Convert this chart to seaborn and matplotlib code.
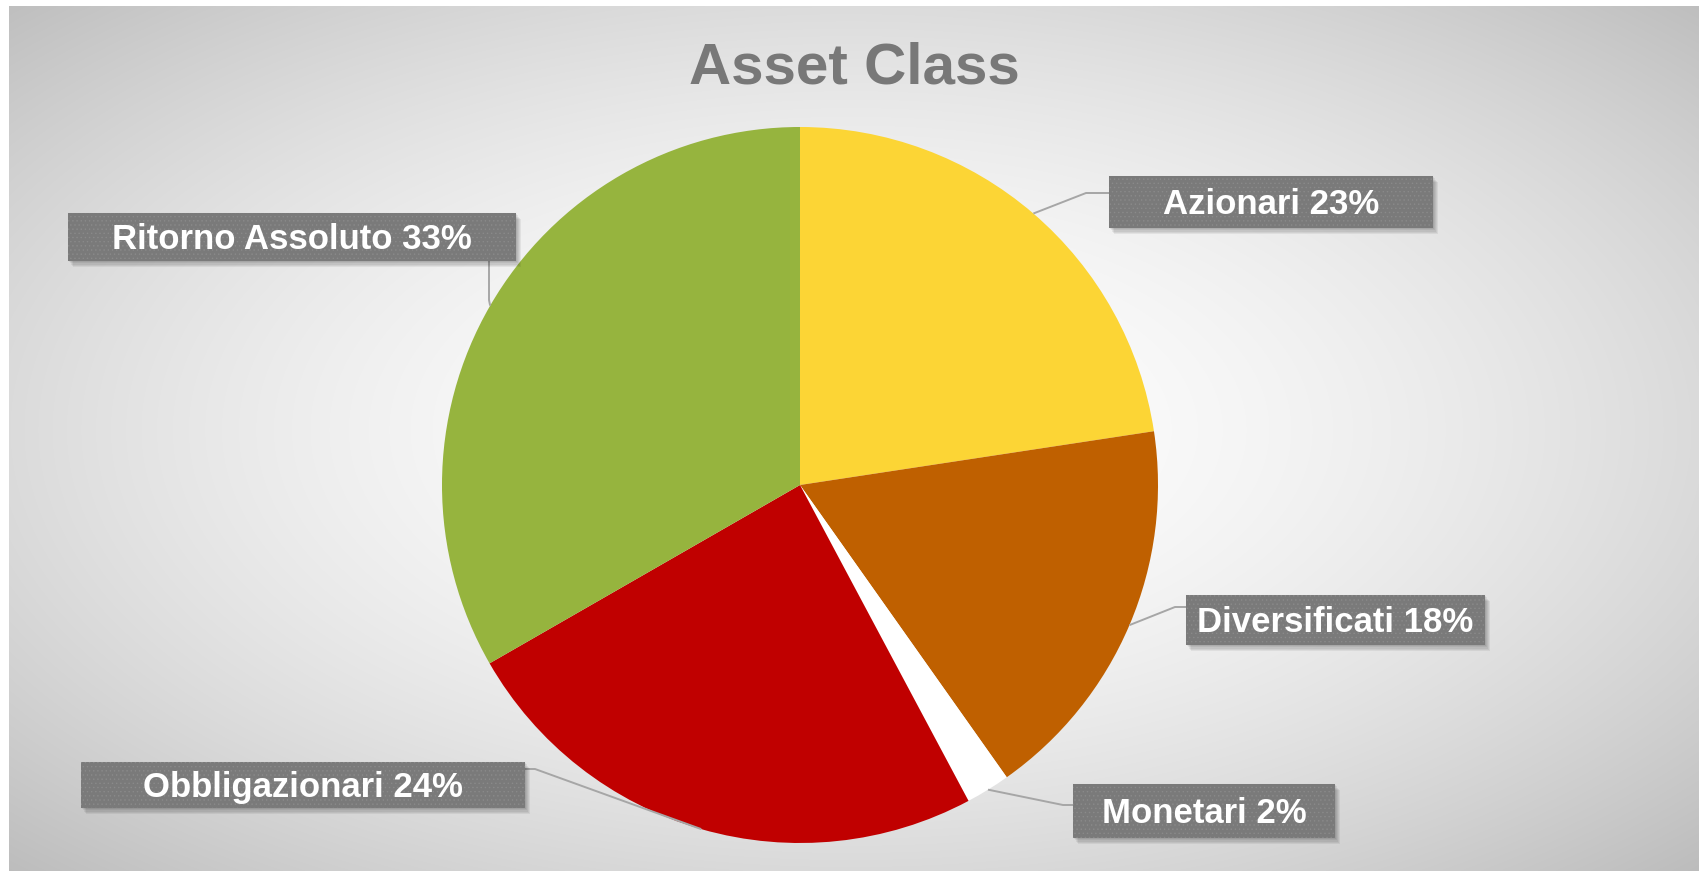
import numpy as np
import matplotlib
matplotlib.use("Agg")
import matplotlib.pyplot as plt
import seaborn as sns
from matplotlib.patches import Rectangle

# ---------------- data ----------------
categories = ["Azionari", "Diversificati", "Monetari", "Obbligazionari", "Ritorno Assoluto"]
values = [22.6, 17.6, 2.0, 24.5, 33.3]
label_pct = [23, 18, 2, 24, 33]
colors = ["#FCD535", "#BF6000", "#FFFFFF", "#C00000", "#96B43E"]
title = "Asset Class"

# ---------------- style / layout ----------------
sns.set_theme(style="white")
plt.rcParams["font.family"] = ["Liberation Sans", "DejaVu Sans"]
plt.rcParams["hatch.linewidth"] = 0.5

W, H = 1702, 871
fig = plt.figure(figsize=(W / 100, H / 100), dpi=100)
fig.patch.set_facecolor("white")
ax = fig.add_axes([0, 0, 1, 1])

# radial gradient background (white centre, grey corners)
bx0, bx1, by0, by1 = 9, 1699, 6, 871
yy, xx = np.mgrid[by0:by1, bx0:bx1] + 0.5
cx, cy = 851, 430
d = np.sqrt(((xx - cx) / (W / 2)) ** 2 + ((yy - cy) / (H / 2)) ** 2) / np.sqrt(2)
val = 1 - 0.26 * np.clip(d, 0, 1) ** 1.7
img = np.dstack([val, val, val])
ax.imshow(img, extent=(bx0, bx1, by1, by0), aspect="auto", zorder=0,
          interpolation="bilinear", origin="upper")

# pie (pixel coordinates, y axis downward)
pc = (800, 485)
R = 358
wedges, _ = ax.pie(values, colors=colors, startangle=-90, counterclock=True,
                   center=pc, radius=R, wedgeprops=dict(linewidth=0), frame=True)
for w in wedges:
    w.set_zorder(2)

ax.set_xlim(0, W)
ax.set_ylim(H, 0)
ax.set_aspect("equal")
ax.axis("off")

# label boxes (x0, y0, x1, y1) in pixels, elbow point and attachment point
boxes = [(1109, 176, 1433, 228), (1186, 595, 1485, 645), (1073, 784, 1335, 838),
         (81, 762, 525, 808), (68, 213, 516, 261)]
elbows = [(1086, 193), (1175, 607), (1063, 805), (535, 769), (489, 300)]
ends = [(1109, 193), (1186, 607), (1073, 805), (525, 769), (489, 261)]

total = float(sum(values))
cum = np.cumsum([0] + values[:-1])
for i, (cat, v) in enumerate(zip(categories, values)):
    mid = np.deg2rad(-90 + 360 * (cum[i] + v / 2) / total)
    ex, ey = pc[0] + R * np.cos(mid), pc[1] + R * np.sin(mid)
    ax.plot([ex, elbows[i][0], ends[i][0]], [ey, elbows[i][1], ends[i][1]],
            color="#A6A6A6", lw=1.4, zorder=3, solid_capstyle="butt")

    x0, y0, x1, y1 = boxes[i]
    bw, bh = x1 - x0, y1 - y0
    # soft shadow
    for k in range(1, 6):
        ax.add_patch(Rectangle((x0 + 1.0 * k, y0 + 1.2 * k), bw, bh, facecolor="black",
                               edgecolor="none", alpha=0.06, zorder=4))
    ax.add_patch(Rectangle((x0, y0), bw, bh, facecolor="#7A7A7A", edgecolor="none",
                           zorder=5))
    ax.add_patch(Rectangle((x0, y0), bw, bh, facecolor="none", edgecolor="#8A8A8A",
                           hatch="....", lw=0.01, zorder=5.5))
    ax.text((x0 + x1) / 2, (y0 + y1) / 2 + 12, f"{cat} {label_pct[i]}%",
            ha="center", va="baseline", fontsize=25, fontweight="bold",
            color="white", zorder=6)

ax.text(854, 83, title, ha="center", va="baseline", fontsize=42,
        fontweight="bold", color="#787878", zorder=6)

fig.savefig("out.png", dpi=100, facecolor=fig.get_facecolor())
